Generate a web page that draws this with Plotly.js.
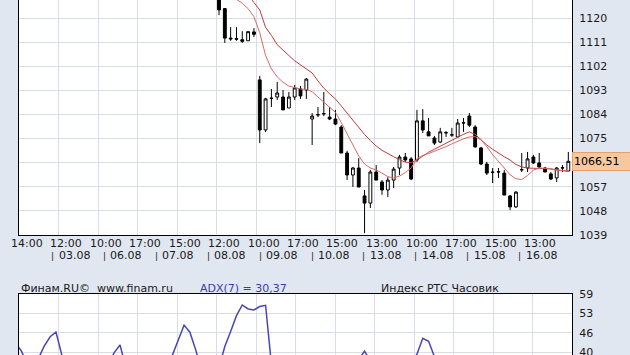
<!DOCTYPE html>
<html><head><meta charset="utf-8">
<script src="https://cdn.plot.ly/plotly-3.0.1.min.js"></script>
<style>html,body{margin:0;padding:0;background:#e1e7f0;overflow:hidden;width:630px;height:355px}</style>
</head><body><div id="chart" style="width:630px;height:420px"></div>
<script>
// ---- data (hourly candles, Индекс РТС) ----
const openP  = [1130,1123.5,1112.5,1112.3,1111.9,1111.5,1114.8,1096.9,1078.2,1090.1,1090.5,1090.5,1086.4,1090.5,1093.5,1093.1,1082.3,1083.8,1084.2,1083.0,1082.3,1079.3,1069.6,1061.4,1064.0,1053.6,1050.9,1062.5,1058.8,1055.8,1059.5,1064.0,1068.1,1067.4,1067.0,1081.6,1077.5,1075.2,1073.7,1077.1,1076.3,1075.6,1080.8,1083.4,1079.3,1071.5,1065.5,1062.5,1062.5,1062.1,1053.6,1049.5,1063.3,1064.0,1068.1,1065.9,1064.0,1061.8,1060.3,1064.0,1062.9];
const highP  = [1131,1123.7,1116.6,1116.6,1115.1,1114.9,1116.2,1098.4,1090.2,1093.5,1096.1,1093.1,1092.4,1095.0,1094.6,1097.6,1084.5,1086.8,1092.4,1086.8,1085.7,1080.0,1070.4,1064.4,1067.7,1055.8,1063.3,1065.1,1059.5,1060.6,1064.4,1068.9,1069.6,1068.1,1085.7,1086.0,1082.7,1076.0,1079.0,1077.8,1079.0,1082.3,1082.7,1084.5,1080.0,1071.9,1066.3,1064.0,1064.0,1063.3,1053.9,1055.4,1069.6,1070.0,1068.9,1069.6,1064.4,1062.5,1064.4,1065.1,1070.0];
const lowP   = [1121.1,1110.7,1111.5,1111.5,1110.7,1111.5,1112.9,1073.3,1077.4,1086.8,1089.4,1085.7,1086.4,1089.4,1089.8,1089.8,1072.6,1083.0,1083.4,1081.9,1080.0,1069.6,1059.5,1056.9,1056.9,1039.7,1049.1,1059.5,1054.0,1053.2,1056.5,1061.4,1066.3,1059.5,1066.3,1077.1,1076.0,1072.6,1073.3,1075.6,1075.6,1075.6,1077.5,1079.3,1071.5,1065.1,1061.4,1058.4,1060.3,1053.9,1048.3,1049.1,1062.5,1062.5,1065.5,1064.0,1062.5,1059.5,1058.8,1062.5,1062.9];
const closeP = [1123.0,1112.5,1112.2,1112.1,1111.3,1114.9,1113.9,1078.2,1089.8,1090.0,1092.0,1085.7,1090.5,1093.9,1090.9,1097.2,1083.4,1083.9,1084.3,1082.3,1080.4,1069.6,1061.4,1064.0,1056.9,1050.9,1062.5,1059.5,1055.8,1059.5,1063.6,1068.1,1067.0,1059.9,1081.6,1078.2,1076.0,1073.3,1077.5,1077.2,1076.4,1080.8,1080.9,1080.0,1071.9,1065.5,1062.1,1062.4,1062.6,1053.9,1049.5,1055.0,1063.4,1067.4,1065.9,1064.4,1062.5,1059.9,1064.0,1064.1,1066.51];
const maFast = [1133,1131,1129,1127,1125.5,1123.5,1120.5,1114.5,1106,1101,1098,1096,1094.6,1094,1093.5,1093.3,1092.5,1090.5,1088.6,1086.5,1084.8,1081,1076.7,1072.5,1068.5,1065.5,1064,1063.3,1062,1060.8,1060.3,1061,1062.3,1064,1067.5,1068.7,1069.4,1070.2,1071.2,1072,1073,1074,1074.9,1075.6,1075.7,1074.5,1072,1069,1066.5,1063.8,1061.5,1060,1059.7,1061.2,1063.2,1064,1064,1063.8,1063.2,1063,1063];
const maSlow = [1140,1137,1135,1133,1131,1128.7,1125.8,1123,1116.5,1113.5,1110,1107.8,1106,1104,1102.5,1101.3,1099.5,1096.5,1093.8,1091.7,1089.8,1087.2,1084.6,1081.9,1079,1076.5,1074.3,1072.2,1070.6,1069.3,1068.2,1067.1,1066.2,1066,1067,1068.4,1069.9,1071,1072.2,1073.2,1074.4,1075.5,1076.6,1077.5,1076.6,1074.6,1072.6,1071,1069.5,1068.2,1067,1065.3,1064.4,1064,1063.9,1063.9,1063.8,1063.6,1063.3,1063,1062.7];
// ADX(7): candle index (relative to first visible candle) and value
const adxIdx = [-35,-34,-33,-32,-31,-30,-29,-28,-27,-26,-23,-20,-19,-18,-17,-16,-13,-9,-8,-7,-6,-5,-4,-3,-1,0,1,2,3,4,5,6,7,8,9,10,16,22,24,25,26,29,32,33,34,35,36,37,40,45,50,54,57,60];
const adxVal = [43,40.5,36.5,34,38,42,45,46.5,39,34,31,33,36,39.8,42.3,35,31,33,39,44,48.8,46.5,40.7,34,31,35,41.8,46.7,51.9,55.4,54.1,53.8,54.9,55.3,36,31,30,33,37.5,40.3,37,33,34,36,39.3,44.5,43.5,38.5,34,32,35,33,31,30.37];
const timeLabels = ['14:00','12:00','10:00','17:00','15:00','12:00','10:00','17:00','15:00','13:00','10:00','17:00','15:00','13:00'];
const dateLabels = ['03.08','06.08','07.08','08.08','09.08','10.08','13.08','14.08','15.08','16.08'];
const priceTicks = [1039,1048,1057,1066,1075,1084,1093,1102,1111,1120];
const priceTickText = ['1039','1048','1057','','1075','1084','1093','1102','1111','1120'];
const adxTicks = [40,46.333,52.667,59];
const adxTickText = ['40','46','53','59'];
const lastPrice = '1066,51';

// ---- geometry ----
const H = 420, L = 19, R = 572;
const X0 = 219, STEP = 5.822;           // pixel of first visible candle, candle spacing
const pxToIdx = px => (px - X0) / STEP;
const pxX = px => (px - L) / (R - L);
const pxY = py => 1 - py / H;
const xr = [pxToIdx(L), pxToIdx(R)];
const gridVals = [];
for (let m = 1; m < 14; m++) gridVals.push(pxToIdx(L + 39.5 * m));
const adxGrid = [adxTicks[0] - 19 / 3, adxTicks[0] - 38 / 3, adxTicks[0] - 19];
const idx = openP.map((_, i) => i);

const FONT = {family: 'DejaVu Sans, Verdana, sans-serif', size: 11, color: '#1a1a1a'};
const GRID = '#d9dee6';

const traces = [
  {type: 'candlestick', x: idx, open: openP, high: highP, low: lowP, close: closeP,
   increasing: {line: {color: '#000', width: 1}, fillcolor: '#ffffff'},
   decreasing: {line: {color: '#000', width: 1}, fillcolor: '#000000'},
   whiskerwidth: 0, hoverinfo: 'skip', xaxis: 'x', yaxis: 'y'},
  {type: 'scatter', mode: 'lines', x: idx, y: maSlow, line: {color: '#bf3b3b', width: 1}, hoverinfo: 'skip', xaxis: 'x', yaxis: 'y'},
  {type: 'scatter', mode: 'lines', x: idx, y: maFast, line: {color: '#d86a6a', width: 1}, hoverinfo: 'skip', xaxis: 'x', yaxis: 'y'},
  {type: 'scatter', mode: 'lines', x: adxIdx, y: adxVal, line: {color: '#4646b4', width: 1.5}, hoverinfo: 'skip', xaxis: 'x2', yaxis: 'y2'}
];

const ann = [];
timeLabels.forEach((t, m) => ann.push({text: t, xref: 'paper', yref: 'paper', x: pxX(L + 39.5 * m + 7.5), y: pxY(243), xanchor: 'center', yanchor: 'middle', showarrow: false, font: FONT}));
dateLabels.forEach((d, k) => {
  const bx = 52.5 + 51.9 * k;
  ann.push({text: '|', xref: 'paper', yref: 'paper', x: pxX(bx), y: pxY(256), xanchor: 'center', yanchor: 'middle', showarrow: false, font: Object.assign({}, FONT, {size: 9})});
  ann.push({text: d, xref: 'paper', yref: 'paper', x: pxX(bx + 4), y: pxY(255.5), xanchor: 'left', yanchor: 'middle', showarrow: false, font: FONT});
});
ann.push({text: 'Финам.RU©  www.finam.ru', xref: 'paper', yref: 'paper', x: pxX(19), y: pxY(288), xanchor: 'left', yanchor: 'middle', showarrow: false, font: FONT});
ann.push({text: 'ADX(7) = 30,37', xref: 'paper', yref: 'paper', x: pxX(198), y: pxY(288), xanchor: 'left', yanchor: 'middle', showarrow: false, font: Object.assign({}, FONT, {color: '#3c3ca8'})});
ann.push({text: 'Индекс РТС Часовик', xref: 'paper', yref: 'paper', x: pxX(440), y: pxY(288), xanchor: 'center', yanchor: 'middle', showarrow: false, font: FONT});
ann.push({text: lastPrice, xref: 'paper', yref: 'y', x: 1, y: 1066.51, xanchor: 'left', yanchor: 'middle', showarrow: false,
  font: Object.assign({}, FONT, {color: '#000'}), bgcolor: '#f8c79b', bordercolor: '#e4a06c', borderwidth: 1, width: 56, height: 15, align: 'left', borderpad: 1});

const layout = {
  width: 630, height: H, margin: {l: L, r: 630 - R, t: 0, b: 0},
  paper_bgcolor: '#e1e7f0', plot_bgcolor: '#ffffff', showlegend: false,
  xaxis: {domain: [0, 1], range: xr, tickvals: gridVals, showticklabels: false, ticks: '', showgrid: true, gridcolor: GRID,
    zeroline: false, showline: true, linecolor: '#000', linewidth: 1, mirror: false, rangeslider: {visible: false}, anchor: 'y'},
  yaxis: {domain: [1 - 235 / H, 1], range: [1039, 1039 + 235 * 81 / 217], side: 'right', tickvals: priceTicks, ticktext: priceTickText,
    ticks: '', ticklabelstandoff: 4, tickfont: FONT, showgrid: true, gridcolor: GRID, zeroline: false,
    showline: true, linecolor: '#000', linewidth: 1, mirror: true, anchor: 'x'},
  xaxis2: {domain: [0, 1], range: xr, tickvals: gridVals, showticklabels: false, ticks: '', showgrid: true, gridcolor: GRID,
    zeroline: false, showline: true, linecolor: '#000', linewidth: 1, mirror: true, anchor: 'y2'},
  yaxis2: {domain: [0, 1 - 294 / H], range: [59 - 126 * 19 / 58, 59], side: 'right', tickvals: adxTicks, ticktext: adxTickText,
    ticks: '', ticklabelstandoff: 4, tickfont: FONT, showgrid: true, gridcolor: GRID, zeroline: false,
    showline: true, linecolor: '#000', linewidth: 1, mirror: true, anchor: 'x2'},
  shapes: adxGrid.map(v => ({type: 'line', xref: 'paper', yref: 'y2', x0: 0, x1: 1, y0: v, y1: v, line: {color: GRID, width: 1}, layer: 'below'})),
  annotations: ann
};
Plotly.newPlot('chart', traces, layout, {staticPlot: true, displayModeBar: false});
</script></body></html>
